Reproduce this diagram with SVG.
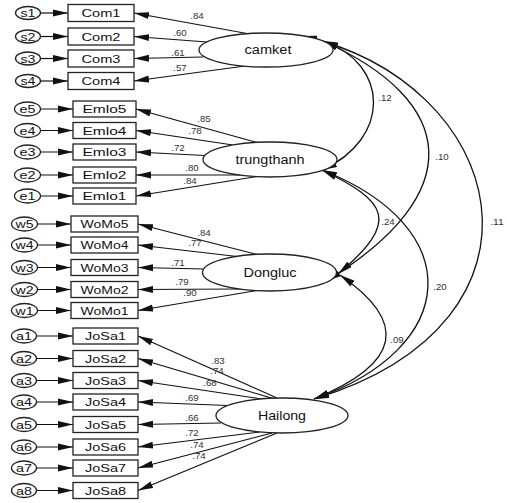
<svg xmlns="http://www.w3.org/2000/svg" width="507" height="503" viewBox="0 0 507 503">
<style>
.bg{fill:#fff}
.box{fill:#fff;stroke:#222;stroke-width:1.3}
.err{fill:#fff;stroke:#222;stroke-width:1.3}
.lat{fill:#fff;stroke:#222;stroke-width:1.3}
.ln{fill:none;stroke:#111;stroke-width:1.2;marker-end:url(#ah)}
.cv{fill:none;stroke:#111;stroke-width:1.3;marker-start:url(#ah);marker-end:url(#ah)}
text{font-family:"Liberation Sans",Arial,sans-serif;fill:#111;text-anchor:middle}
.t{font-size:11.5px}
.te{font-size:11px}
.tl{font-size:12px}
.c{font-size:9px;fill:#333}
</style>
<defs>
<marker id="ah" markerUnits="userSpaceOnUse" markerWidth="15" markerHeight="8" refX="15" refY="4" orient="auto-start-reverse" viewBox="0 0 15 8">
<path d="M0,0.5 L15,4 L0,7.5 z" fill="#111"/>
</marker>
</defs>
<rect class="bg" x="0" y="0" width="507" height="503"/>

<g id="connectors">
<line class="ln" x1="40.5" y1="13" x2="68" y2="13"/>
<line class="ln" x1="40.5" y1="36.5" x2="68" y2="36.5"/>
<line class="ln" x1="40.5" y1="58.5" x2="68" y2="58.5"/>
<line class="ln" x1="40.5" y1="81" x2="68" y2="81"/>
<line class="ln" x1="40.5" y1="109" x2="73" y2="109"/>
<line class="ln" x1="40.5" y1="130.5" x2="73" y2="130.5"/>
<line class="ln" x1="40.5" y1="152" x2="73" y2="152"/>
<line class="ln" x1="40.5" y1="175" x2="73" y2="175"/>
<line class="ln" x1="40.5" y1="196" x2="73" y2="196"/>
<line class="ln" x1="37.5" y1="224" x2="71" y2="224"/>
<line class="ln" x1="37.5" y1="245" x2="71" y2="245"/>
<line class="ln" x1="37.5" y1="267.5" x2="71" y2="267.5"/>
<line class="ln" x1="37.5" y1="289.5" x2="71" y2="289.5"/>
<line class="ln" x1="37.5" y1="310.5" x2="71" y2="310.5"/>
<line class="ln" x1="36.5" y1="336" x2="73" y2="336"/>
<line class="ln" x1="36.5" y1="358.5" x2="73" y2="358.5"/>
<line class="ln" x1="36.5" y1="380.5" x2="73" y2="380.5"/>
<line class="ln" x1="36.5" y1="402" x2="73" y2="402"/>
<line class="ln" x1="36.5" y1="424.5" x2="73" y2="424.5"/>
<line class="ln" x1="36.5" y1="447" x2="73" y2="447"/>
<line class="ln" x1="36.5" y1="468" x2="73" y2="468"/>
<line class="ln" x1="36.5" y1="490.5" x2="73" y2="490.5"/>
<line class="ln" x1="247" y1="33.5" x2="134" y2="13"/>
<line class="ln" x1="207" y1="42" x2="134" y2="36.5"/>
<line class="ln" x1="203" y1="57" x2="134" y2="58.5"/>
<line class="ln" x1="245" y1="66" x2="134" y2="81"/>
<line class="ln" x1="257" y1="142.5" x2="136" y2="109"/>
<line class="ln" x1="233" y1="145" x2="136" y2="130.5"/>
<line class="ln" x1="205" y1="155.5" x2="136" y2="152"/>
<line class="ln" x1="240" y1="175" x2="136" y2="175"/>
<line class="ln" x1="257" y1="176.5" x2="136" y2="196"/>
<line class="ln" x1="257" y1="254.5" x2="138" y2="224"/>
<line class="ln" x1="237" y1="256.5" x2="138" y2="245"/>
<line class="ln" x1="204" y1="269" x2="138" y2="267.5"/>
<line class="ln" x1="240" y1="289" x2="138" y2="289.5"/>
<line class="ln" x1="257" y1="290.5" x2="138" y2="310.5"/>
<line class="ln" x1="277" y1="398" x2="138" y2="336"/>
<line class="ln" x1="273" y1="398.5" x2="138" y2="358.5"/>
<line class="ln" x1="262" y1="399" x2="138" y2="380.5"/>
<line class="ln" x1="228" y1="405.5" x2="138" y2="402"/>
<line class="ln" x1="221" y1="423" x2="138" y2="424.5"/>
<line class="ln" x1="260" y1="432" x2="138" y2="447"/>
<line class="ln" x1="272" y1="433" x2="138" y2="468"/>
<line class="ln" x1="277" y1="433" x2="138" y2="490.5"/>
<path class="cv" d="M323,41 C390,64 391,139 322,170"/>
<path class="cv" d="M323,41 C457,101 470,193 326,281"/>
<path class="cv" d="M302,36 C508,82 570,321 314,399"/>
<path class="cv" d="M322,170 C388,202 401,221 338,274"/>
<path class="cv" d="M322,170 C469,228 460,348 314,399"/>
<path class="cv" d="M340,275 C408,322 402,363 314,399"/>
</g>

<g id="connector-labels">
<text class="c" x="197" y="19" textLength="13.5" lengthAdjust="spacingAndGlyphs">.84</text>
<text class="c" x="180" y="36" textLength="13.5" lengthAdjust="spacingAndGlyphs">.60</text>
<text class="c" x="178" y="56" textLength="13.5" lengthAdjust="spacingAndGlyphs">.61</text>
<text class="c" x="180" y="71" textLength="13.5" lengthAdjust="spacingAndGlyphs">.57</text>
<text class="c" x="204" y="122" textLength="13.5" lengthAdjust="spacingAndGlyphs">.85</text>
<text class="c" x="195" y="134" textLength="13.5" lengthAdjust="spacingAndGlyphs">.78</text>
<text class="c" x="178" y="151" textLength="13.5" lengthAdjust="spacingAndGlyphs">.72</text>
<text class="c" x="192" y="171" textLength="13.5" lengthAdjust="spacingAndGlyphs">.80</text>
<text class="c" x="190" y="184" textLength="13.5" lengthAdjust="spacingAndGlyphs">.84</text>
<text class="c" x="204" y="236" textLength="13.5" lengthAdjust="spacingAndGlyphs">.84</text>
<text class="c" x="195" y="246" textLength="13.5" lengthAdjust="spacingAndGlyphs">.77</text>
<text class="c" x="178" y="266" textLength="13.5" lengthAdjust="spacingAndGlyphs">.71</text>
<text class="c" x="182" y="285" textLength="13.5" lengthAdjust="spacingAndGlyphs">.79</text>
<text class="c" x="190" y="296" textLength="13.5" lengthAdjust="spacingAndGlyphs">.90</text>
<text class="c" x="218" y="364" textLength="13.5" lengthAdjust="spacingAndGlyphs">.83</text>
<text class="c" x="217" y="374" textLength="13.5" lengthAdjust="spacingAndGlyphs">.74</text>
<text class="c" x="210" y="386" textLength="13.5" lengthAdjust="spacingAndGlyphs">.68</text>
<text class="c" x="192" y="401" textLength="13.5" lengthAdjust="spacingAndGlyphs">.69</text>
<text class="c" x="192" y="421" textLength="13.5" lengthAdjust="spacingAndGlyphs">.66</text>
<text class="c" x="192" y="436" textLength="13.5" lengthAdjust="spacingAndGlyphs">.72</text>
<text class="c" x="197" y="448" textLength="13.5" lengthAdjust="spacingAndGlyphs">.74</text>
<text class="c" x="199" y="459" textLength="13.5" lengthAdjust="spacingAndGlyphs">.74</text>
<text class="c" x="385" y="101" textLength="13.5" lengthAdjust="spacingAndGlyphs">.12</text>
<text class="c" x="442" y="160" textLength="13.5" lengthAdjust="spacingAndGlyphs">.10</text>
<text class="c" x="497" y="225" textLength="13.5" lengthAdjust="spacingAndGlyphs">.11</text>
<text class="c" x="388" y="225" textLength="13.5" lengthAdjust="spacingAndGlyphs">.24</text>
<text class="c" x="440" y="290" textLength="13.5" lengthAdjust="spacingAndGlyphs">.20</text>
<text class="c" x="397" y="343" textLength="13.5" lengthAdjust="spacingAndGlyphs">.09</text>
</g>

<g id="camket"><ellipse class="lat" cx="266" cy="50" rx="67" ry="17"/><text class="tl" x="268" y="54" textLength="47" lengthAdjust="spacingAndGlyphs">camket</text></g>
<g id="trungthanh"><ellipse class="lat" cx="270" cy="159.5" rx="67" ry="17.5"/><text class="tl" x="270" y="164" textLength="69" lengthAdjust="spacingAndGlyphs">trungthanh</text></g>
<g id="Dongluc"><ellipse class="lat" cx="269.5" cy="272.5" rx="67" ry="18.5"/><text class="tl" x="270" y="277" textLength="53" lengthAdjust="spacingAndGlyphs">Dongluc</text></g>
<g id="Hailong"><ellipse class="lat" cx="282" cy="415.5" rx="66" ry="17.5"/><text class="tl" x="282" y="420" textLength="48" lengthAdjust="spacingAndGlyphs">Hailong</text></g>

<g id="Com1"><rect class="box" x="68" y="4.5" width="66" height="17"/><text class="t" x="101" y="17" textLength="39" lengthAdjust="spacingAndGlyphs">Com1</text></g>
<g id="Com2"><rect class="box" x="68" y="28" width="66" height="17"/><text class="t" x="101" y="40.5" textLength="39" lengthAdjust="spacingAndGlyphs">Com2</text></g>
<g id="Com3"><rect class="box" x="68" y="50" width="66" height="17"/><text class="t" x="101" y="62.5" textLength="39" lengthAdjust="spacingAndGlyphs">Com3</text></g>
<g id="Com4"><rect class="box" x="68" y="72.5" width="66" height="17"/><text class="t" x="101" y="85" textLength="39" lengthAdjust="spacingAndGlyphs">Com4</text></g>
<g id="Emlo5"><rect class="box" x="73" y="101" width="63" height="16"/><text class="t" x="104.5" y="113" textLength="44" lengthAdjust="spacingAndGlyphs">Emlo5</text></g>
<g id="Emlo4"><rect class="box" x="73" y="122.5" width="63" height="16"/><text class="t" x="104.5" y="134.5" textLength="44" lengthAdjust="spacingAndGlyphs">Emlo4</text></g>
<g id="Emlo3"><rect class="box" x="73" y="144" width="63" height="16"/><text class="t" x="104.5" y="156" textLength="44" lengthAdjust="spacingAndGlyphs">Emlo3</text></g>
<g id="Emlo2"><rect class="box" x="73" y="167" width="63" height="16"/><text class="t" x="104.5" y="179" textLength="44" lengthAdjust="spacingAndGlyphs">Emlo2</text></g>
<g id="Emlo1"><rect class="box" x="73" y="188" width="63" height="16"/><text class="t" x="104.5" y="200" textLength="44" lengthAdjust="spacingAndGlyphs">Emlo1</text></g>
<g id="WoMo5"><rect class="box" x="71" y="216" width="67" height="16"/><text class="t" x="104.5" y="228" textLength="48" lengthAdjust="spacingAndGlyphs">WoMo5</text></g>
<g id="WoMo4"><rect class="box" x="71" y="237" width="67" height="16"/><text class="t" x="104.5" y="249" textLength="48" lengthAdjust="spacingAndGlyphs">WoMo4</text></g>
<g id="WoMo3"><rect class="box" x="71" y="259.5" width="67" height="16"/><text class="t" x="104.5" y="271.5" textLength="48" lengthAdjust="spacingAndGlyphs">WoMo3</text></g>
<g id="WoMo2"><rect class="box" x="71" y="281.5" width="67" height="16"/><text class="t" x="104.5" y="293.5" textLength="48" lengthAdjust="spacingAndGlyphs">WoMo2</text></g>
<g id="WoMo1"><rect class="box" x="71" y="302.5" width="67" height="16"/><text class="t" x="104.5" y="314.5" textLength="48" lengthAdjust="spacingAndGlyphs">WoMo1</text></g>
<g id="JoSa1"><rect class="box" x="73" y="328" width="65" height="16"/><text class="t" x="105.5" y="340" textLength="41" lengthAdjust="spacingAndGlyphs">JoSa1</text></g>
<g id="JoSa2"><rect class="box" x="73" y="350.5" width="65" height="16"/><text class="t" x="105.5" y="362.5" textLength="41" lengthAdjust="spacingAndGlyphs">JoSa2</text></g>
<g id="JoSa3"><rect class="box" x="73" y="372.5" width="65" height="16"/><text class="t" x="105.5" y="384.5" textLength="41" lengthAdjust="spacingAndGlyphs">JoSa3</text></g>
<g id="JoSa4"><rect class="box" x="73" y="394" width="65" height="16"/><text class="t" x="105.5" y="406" textLength="41" lengthAdjust="spacingAndGlyphs">JoSa4</text></g>
<g id="JoSa5"><rect class="box" x="73" y="416.5" width="65" height="16"/><text class="t" x="105.5" y="428.5" textLength="41" lengthAdjust="spacingAndGlyphs">JoSa5</text></g>
<g id="JoSa6"><rect class="box" x="73" y="439" width="65" height="16"/><text class="t" x="105.5" y="451" textLength="41" lengthAdjust="spacingAndGlyphs">JoSa6</text></g>
<g id="JoSa7"><rect class="box" x="73" y="460" width="65" height="16"/><text class="t" x="105.5" y="472" textLength="41" lengthAdjust="spacingAndGlyphs">JoSa7</text></g>
<g id="JoSa8"><rect class="box" x="73" y="482.5" width="65" height="16"/><text class="t" x="105.5" y="494.5" textLength="41" lengthAdjust="spacingAndGlyphs">JoSa8</text></g>

<g id="s1"><ellipse class="err" cx="28" cy="13" rx="12.5" ry="6.5"/><text class="te" x="28" y="17" textLength="15" lengthAdjust="spacingAndGlyphs">s1</text></g>
<g id="s2"><ellipse class="err" cx="28" cy="36.5" rx="12.5" ry="6.5"/><text class="te" x="28" y="40.5" textLength="15" lengthAdjust="spacingAndGlyphs">s2</text></g>
<g id="s3"><ellipse class="err" cx="28" cy="58.5" rx="12.5" ry="6.5"/><text class="te" x="28" y="62.5" textLength="15" lengthAdjust="spacingAndGlyphs">s3</text></g>
<g id="s4"><ellipse class="err" cx="28" cy="81" rx="12.5" ry="6.5"/><text class="te" x="28" y="85" textLength="15" lengthAdjust="spacingAndGlyphs">s4</text></g>
<g id="e5"><ellipse class="err" cx="27.5" cy="109" rx="13" ry="7"/><text class="te" x="27.5" y="113" textLength="16" lengthAdjust="spacingAndGlyphs">e5</text></g>
<g id="e4"><ellipse class="err" cx="27.5" cy="130.5" rx="13" ry="7"/><text class="te" x="27.5" y="134.5" textLength="16" lengthAdjust="spacingAndGlyphs">e4</text></g>
<g id="e3"><ellipse class="err" cx="27.5" cy="152" rx="13" ry="7"/><text class="te" x="27.5" y="156" textLength="16" lengthAdjust="spacingAndGlyphs">e3</text></g>
<g id="e2"><ellipse class="err" cx="27.5" cy="175" rx="13" ry="7"/><text class="te" x="27.5" y="179" textLength="16" lengthAdjust="spacingAndGlyphs">e2</text></g>
<g id="e1"><ellipse class="err" cx="27.5" cy="196" rx="13" ry="7"/><text class="te" x="27.5" y="200" textLength="16" lengthAdjust="spacingAndGlyphs">e1</text></g>
<g id="w5"><ellipse class="err" cx="24.5" cy="224" rx="13" ry="7"/><text class="te" x="24.5" y="228" textLength="18" lengthAdjust="spacingAndGlyphs">w5</text></g>
<g id="w4"><ellipse class="err" cx="24.5" cy="245" rx="13" ry="7"/><text class="te" x="24.5" y="249" textLength="18" lengthAdjust="spacingAndGlyphs">w4</text></g>
<g id="w3"><ellipse class="err" cx="24.5" cy="267.5" rx="13" ry="7"/><text class="te" x="24.5" y="271.5" textLength="18" lengthAdjust="spacingAndGlyphs">w3</text></g>
<g id="w2"><ellipse class="err" cx="24.5" cy="289.5" rx="13" ry="7"/><text class="te" x="24.5" y="293.5" textLength="18" lengthAdjust="spacingAndGlyphs">w2</text></g>
<g id="w1"><ellipse class="err" cx="24.5" cy="310.5" rx="13" ry="7"/><text class="te" x="24.5" y="314.5" textLength="18" lengthAdjust="spacingAndGlyphs">w1</text></g>
<g id="a1"><ellipse class="err" cx="24" cy="336" rx="12.5" ry="7"/><text class="te" x="24" y="340" textLength="16" lengthAdjust="spacingAndGlyphs">a1</text></g>
<g id="a2"><ellipse class="err" cx="24" cy="358.5" rx="12.5" ry="7"/><text class="te" x="24" y="362.5" textLength="16" lengthAdjust="spacingAndGlyphs">a2</text></g>
<g id="a3"><ellipse class="err" cx="24" cy="380.5" rx="12.5" ry="7"/><text class="te" x="24" y="384.5" textLength="16" lengthAdjust="spacingAndGlyphs">a3</text></g>
<g id="a4"><ellipse class="err" cx="24" cy="402" rx="12.5" ry="7"/><text class="te" x="24" y="406" textLength="16" lengthAdjust="spacingAndGlyphs">a4</text></g>
<g id="a5"><ellipse class="err" cx="24" cy="424.5" rx="12.5" ry="7"/><text class="te" x="24" y="428.5" textLength="16" lengthAdjust="spacingAndGlyphs">a5</text></g>
<g id="a6"><ellipse class="err" cx="24" cy="447" rx="12.5" ry="7"/><text class="te" x="24" y="451" textLength="16" lengthAdjust="spacingAndGlyphs">a6</text></g>
<g id="a7"><ellipse class="err" cx="24" cy="468" rx="12.5" ry="7"/><text class="te" x="24" y="472" textLength="16" lengthAdjust="spacingAndGlyphs">a7</text></g>
<g id="a8"><ellipse class="err" cx="24" cy="490.5" rx="12.5" ry="7"/><text class="te" x="24" y="494.5" textLength="16" lengthAdjust="spacingAndGlyphs">a8</text></g>
</svg>
